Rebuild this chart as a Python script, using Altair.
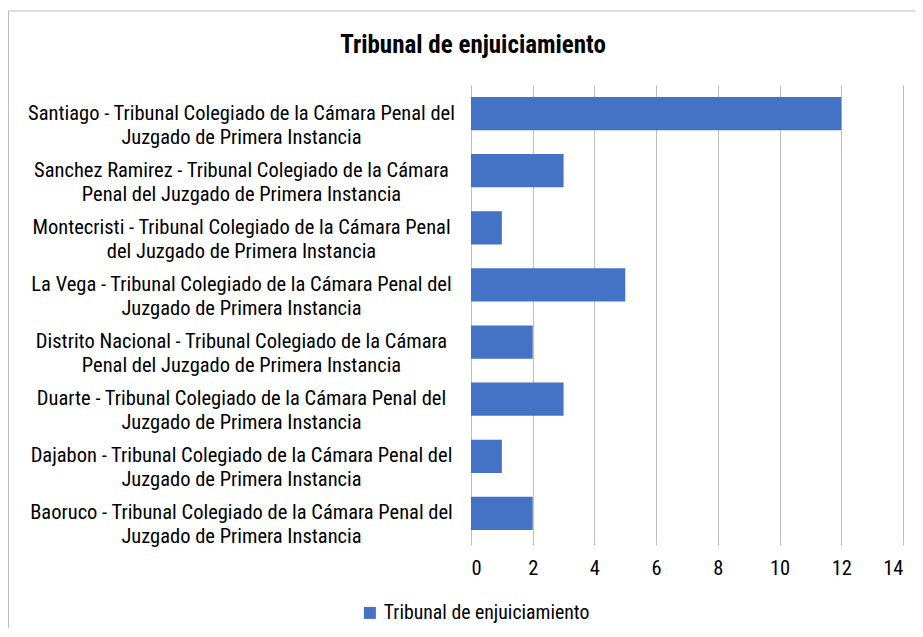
import altair as alt
import pandas as pd

categories = [
    "Santiago - Tribunal Colegiado de la Cámara Penal del\nJuzgado de Primera Instancia",
    "Sanchez Ramirez - Tribunal Colegiado de la Cámara\nPenal del Juzgado de Primera Instancia",
    "Montecristi - Tribunal Colegiado de la Cámara Penal\ndel Juzgado de Primera Instancia",
    "La Vega - Tribunal Colegiado de la Cámara Penal del\nJuzgado de Primera Instancia",
    "Distrito Nacional - Tribunal Colegiado de la Cámara\nPenal del Juzgado de Primera Instancia",
    "Duarte - Tribunal Colegiado de la Cámara Penal del\nJuzgado de Primera Instancia",
    "Dajabon - Tribunal Colegiado de la Cámara Penal del\nJuzgado de Primera Instancia",
    "Baoruco - Tribunal Colegiado de la Cámara Penal del\nJuzgado de Primera Instancia",
]
values = [12, 3, 1, 5, 2, 3, 1, 2]
series_name = "Tribunal de enjuiciamiento"
chart_title = "Tribunal de enjuiciamiento"
x_ticks = [0, 2, 4, 6, 8, 10, 12, 14]

df = pd.DataFrame({"cat": categories, "val": values, "serie": [series_name] * len(values)})
title_df = pd.DataFrame({"t": [chart_title]})

FONT = "Liberation Sans Narrow, Roboto Condensed, DejaVu Sans Condensed, Liberation Sans"

bars = alt.Chart(df).mark_bar(color="#4472C4").encode(
    y=alt.Y(
        "cat:N",
        sort=None,
        scale=alt.Scale(paddingInner=0.42, paddingOuter=0.21),
        axis=alt.Axis(
            title=None,
            ticks=False,
            domain=False,
            labelAlign="center",
            labelBaseline="middle",
            labelPadding=230,
            labelLimit=0,
            labelExpr="split(datum.label, '\\n')",
            labelLineHeight=24,
            labelFont=FONT,
            labelFontSize=20.5,
            labelColor="#000000",
        ),
    ),
    x=alt.X(
        "val:Q",
        scale=alt.Scale(domain=[0, 14], nice=False),
        axis=alt.Axis(
            title=None,
            values=x_ticks,
            grid=True,
            gridColor="#bfbfbf",
            gridWidth=1,
            domain=False,
            ticks=True,
            tickSize=3,
            tickColor="#bfbfbf",
            labelPadding=13,
            labelFont=FONT,
            labelFontSize=20.5,
            labelColor="#000000",
        ),
    ),
    color=alt.Color(
        "serie:N",
        scale=alt.Scale(range=["#4472C4"]),
        legend=alt.Legend(
            title=None,
            orient="none",
            legendX=-111,
            legendY=518,
            symbolType="square",
            symbolSize=144,
            symbolStrokeWidth=0,
            labelFont=FONT,
            labelFontSize=19.8,
            labelColor="#000000",
            labelOffset=4,
            labelLimit=0,
        ),
    ),
)

frame = alt.Chart(title_df).mark_rect(fill=None, stroke="#bfbfbf", strokeWidth=1).encode(
    x=alt.value(-462.5), x2=alt.value(600), y=alt.value(-74), y2=alt.value(700)
)

title = alt.Chart(title_df).mark_text(
    font=FONT, fontSize=25, fontWeight="bold", color="#000000",
    align="center", baseline="middle",
).encode(text="t:N", x=alt.value(2), y=alt.value(-40))

chart = alt.layer(frame, bars, title).properties(
    width=432,
    height=457,
    autosize=alt.AutoSizeParams(type="none"),
    padding={"left": 463, "top": 77, "right": 12, "bottom": 86},
    background="white",
).configure_view(stroke=None)

chart.save("out.html", embed_options={"renderer": "svg", "actions": False})
